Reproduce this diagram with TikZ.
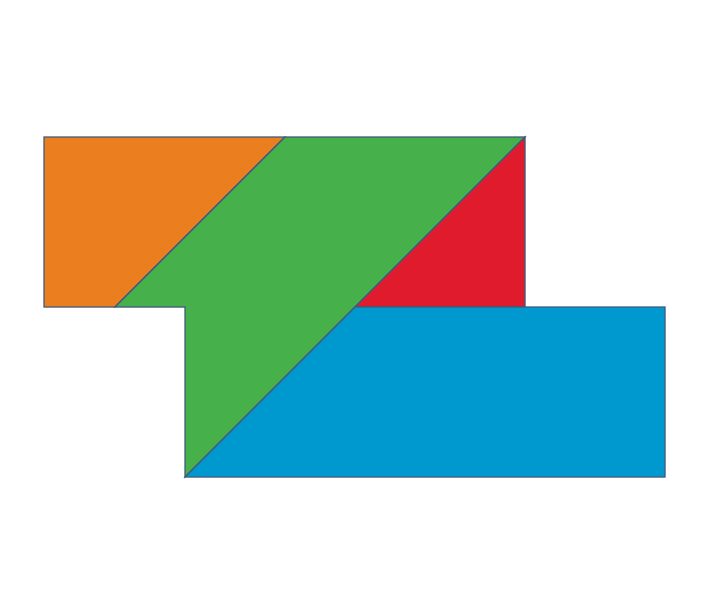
\documentclass[tikz,border=0pt]{standalone}
\definecolor{orangeF}{HTML}{EB7F20}
\definecolor{greenF}{HTML}{46B04A}
\definecolor{redF}{HTML}{E01B2E}
\definecolor{blueF}{HTML}{0099CF}
\definecolor{edgeC}{HTML}{3F5C7A}
\begin{document}
\begin{tikzpicture}[x=1pt,y=-1pt,piece/.style={draw=edgeC,line width=1.1pt,line join=miter}]
\useasboundingbox (0,0) rectangle (710,616);
\fill[white] (0,0) rectangle (710,616);
\draw[piece,fill=orangeF] (44,137) -- (285,137) -- (115,307) -- (44,307) -- cycle;
\draw[piece,fill=greenF] (285,137) -- (525,137) -- (185,477) -- (185,307) -- (115,307) -- cycle;
\draw[piece,fill=redF] (525,137) -- (525,307) -- (355,307) -- cycle;
\draw[piece,fill=blueF] (355,307) -- (665,307) -- (665,477) -- (185,477) -- cycle;
\end{tikzpicture}
\end{document}
